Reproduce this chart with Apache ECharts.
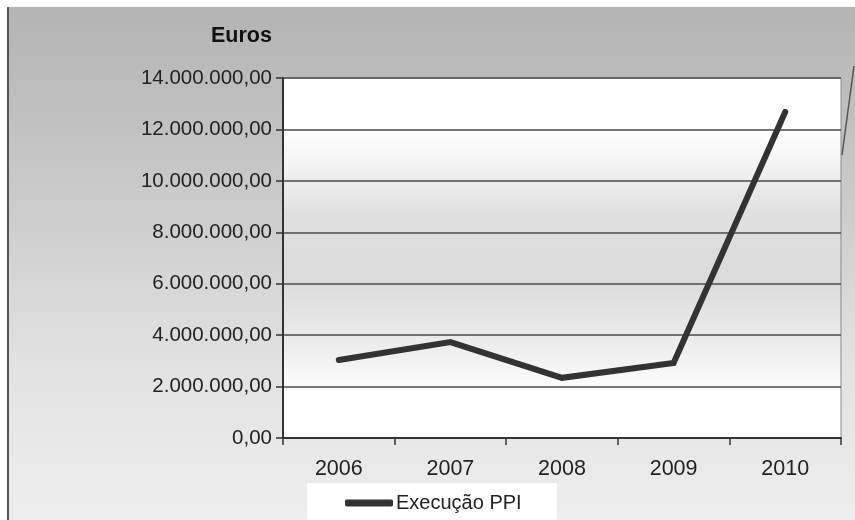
<!DOCTYPE html>
<html>
<head>
<meta charset="utf-8">
<script src="https://cdn.jsdelivr.net/npm/echarts@6/dist/echarts.min.js"></script>
<style>
  html, body { margin: 0; padding: 0; background: #fff; }
  #chart { width: 855px; height: 520px; }
</style>
</head>
<body>
<div id="chart"></div>
<script>
// Execução do PPI por ano (euros)
const years = ['2006', '2007', '2008', '2009', '2010'];
const execucaoPPI = [3030000, 3730000, 2340000, 2920000, 12680000];
const seriesName = 'Execução PPI';
const axisTitle = 'Euros';
const yTicks = { min: 0, max: 14000000, interval: 2000000 };

// 14000000 -> "14.000.000,00"
function formatEuro(v) {
  const intPart = Math.round(v).toString().replace(/\B(?=(\d{3})+(?!\d))/g, '.');
  return intPart + ',00';
}

const chart = echarts.init(document.getElementById('chart'), null, { renderer: 'canvas' });

chart.setOption({
  backgroundColor: '#ffffff',
  animation: false,
  textStyle: { fontFamily: 'Liberation Sans, Arial, sans-serif' },
  graphic: [
    {
      type: 'rect', z: -10, silent: true,
      shape: { x: 8, y: 7, width: 847, height: 513 },
      style: {
        fill: new echarts.graphic.LinearGradient(0, 0, 0, 1, [
          { offset: 0, color: '#b3b3b3' },
          { offset: 0.35, color: '#c9c9c9' },
          { offset: 0.7, color: '#e2e2e2' },
          { offset: 1, color: '#ededed' }
        ])
      }
    },
    {
      type: 'line', z: -9, silent: true,
      shape: { x1: 8, y1: 7, x2: 8, y2: 520 },
      style: { stroke: '#555', lineWidth: 2 }
    },
    {
      type: 'rect', z: 1, silent: true,
      shape: { x: 307, y: 483, width: 250, height: 37 },
      style: { fill: '#ffffff' }
    },
    {
      type: 'line', z: 1, silent: true,
      shape: { x1: 854, y1: 66, x2: 842, y2: 155 },
      style: { stroke: '#555', lineWidth: 1.5 }
    }
  ],
  title: {
    text: axisTitle,
    left: 206,
    top: 20,
    textStyle: { fontSize: 21.5, fontWeight: 'bold', color: '#111' }
  },
  legend: {
    data: [seriesName],
    left: 340,
    top: 488,
    itemWidth: 48,
    itemHeight: 7,
    itemGap: 0,
    icon: 'roundRect',
    textStyle: { fontSize: 20, color: '#222', padding: [0, 0, 0, -2] }
  },
  grid: {
    left: 283, right: 14, top: 78, bottom: 82,
    show: true,
    borderColor: '#8a8a8a',
    borderWidth: 1,
    backgroundColor: new echarts.graphic.LinearGradient(0, 0, 0, 1, [
      { offset: 0, color: '#ffffff' },
      { offset: 0.15, color: '#ffffff' },
      { offset: 0.38, color: '#e0e0e0' },
      { offset: 0.55, color: '#dadada' },
      { offset: 0.75, color: '#eeeeee' },
      { offset: 0.88, color: '#ffffff' },
      { offset: 1, color: '#ffffff' }
    ])
  },
  xAxis: {
    type: 'category',
    data: years,
    boundaryGap: true,
    axisLine: { show: true, lineStyle: { color: '#333', width: 2 } },
    axisTick: { show: true, length: 7, inside: false, lineStyle: { color: '#333', width: 1.5 } },
    axisLabel: { fontSize: 21.5, color: '#222', margin: 20 },
    splitLine: { show: false }
  },
  yAxis: {
    type: 'value',
    min: yTicks.min,
    max: yTicks.max,
    interval: yTicks.interval,
    axisLine: { show: true, lineStyle: { color: '#333', width: 2 } },
    axisTick: { show: true, length: 7, lineStyle: { color: '#333', width: 1.5 } },
    axisLabel: { fontSize: 20.5, color: '#222', margin: 11, formatter: formatEuro },
    splitLine: { show: true, lineStyle: { color: '#4a4a4a', width: 1.5 } }
  },
  series: [
    {
      name: seriesName,
      type: 'line',
      data: execucaoPPI,
      symbol: 'none',
      lineStyle: { color: '#333333', width: 6, cap: 'round', join: 'miter' },
      itemStyle: { color: '#333333' }
    }
  ]
});
</script>
</body>
</html>
